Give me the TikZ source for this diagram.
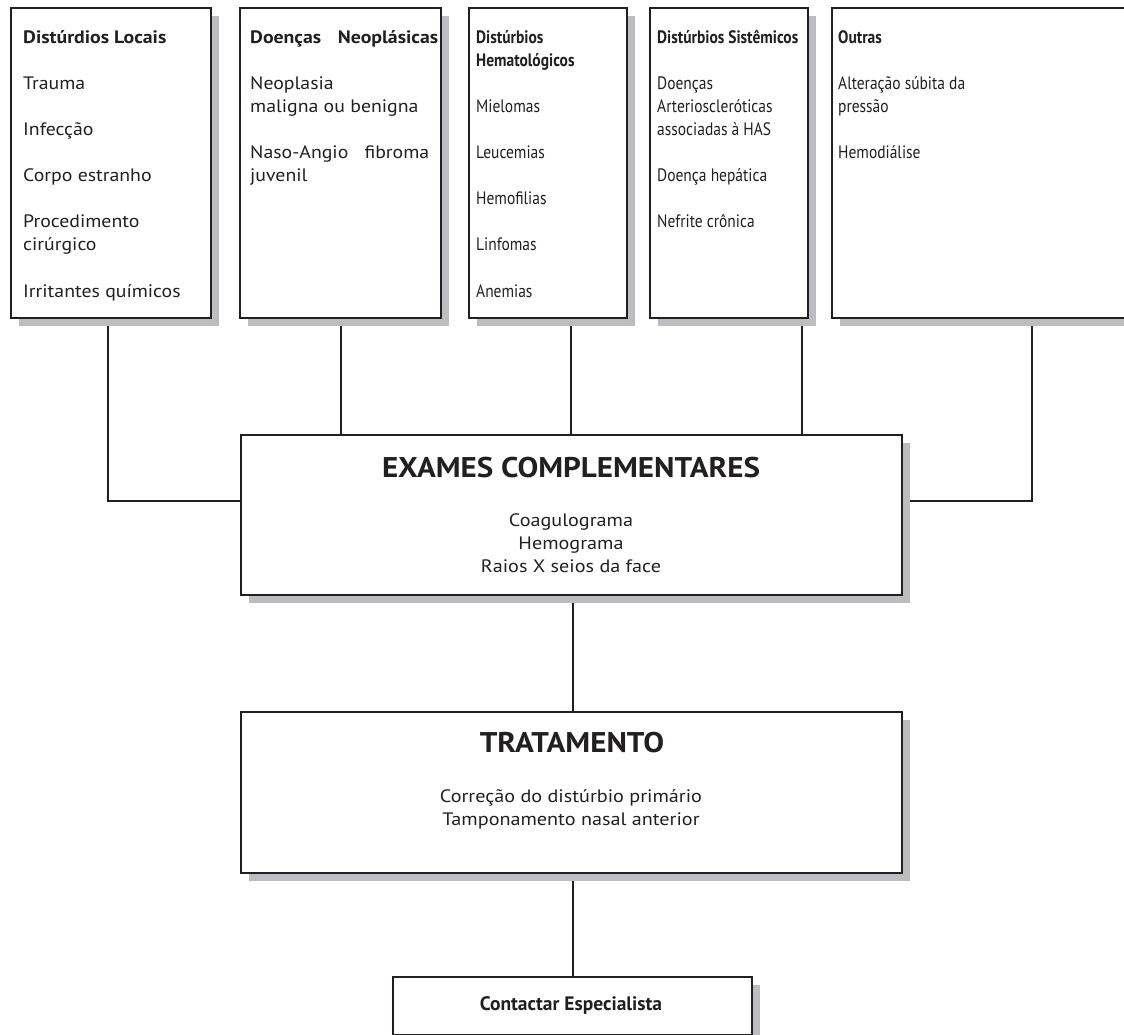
\documentclass[tikz,border=0pt]{standalone}
\usepackage{fontspec}
\setmainfont{PT Sans}
\newfontfamily\condfont[FakeStretch=0.86]{PT Sans}
\newfontfamily\widefont[FakeStretch=1.1]{PT Sans}
\newfontfamily\midfont[FakeStretch=1.12]{PT Sans}
\newfontfamily\headfont[FakeStretch=1.09]{PT Sans}
\usetikzlibrary{calc,shadows,backgrounds}
\definecolor{ink}{RGB}{35,31,32}
\definecolor{shade}{RGB}{188,189,192}
\newcommand\bodysize{\fontsize{18}{23.1}\selectfont}
\newcommand\gap{\\[23.1pt]}
\begin{document}
\begin{tikzpicture}[x=1pt,y=-1pt,
  box/.style={draw=ink, line width=2.4pt, fill=white, inner sep=0pt, rectangle, anchor=north west,
    drop shadow={shadow xshift=8pt, shadow yshift=-8pt, fill=shade, opacity=1}},
  link/.style={draw=ink, line width=2pt},
  coltext/.style={anchor=base west, inner sep=0pt, text=ink},
  midtext/.style={anchor=base, inner sep=0pt, text=ink}]
\useasboundingbox (0,0) rectangle (1124,1034);

% boxes
\node[box, minimum width=200pt, minimum height=310pt] (b1) at (10,7) {};
\node[box, minimum width=201pt, minimum height=310pt] (b2) at (239,7) {};
\node[box, minimum width=158pt, minimum height=310pt] (b3) at (468,7) {};
\node[box, minimum width=158pt, minimum height=310pt] (b4) at (649,7) {};
\node[box, minimum width=304pt, minimum height=310pt] (b5) at (831,7) {};
\node[box, minimum width=661pt, minimum height=160pt] (ex) at (240,434) {};
\node[box, minimum width=661pt, minimum height=161pt] (tr) at (240,711) {};
\node[box, minimum width=359pt, minimum height=58pt] (co) at (392,976) {};

% connectors (behind shadows)
\begin{pgfonlayer}{background}
\draw[link] ($(b1.south west)+(98,0)$) |- ([yshift=14pt]ex.west);
\draw[link] ($(b2.south west)+(102,0)$) -- ($(ex.north west)+(101,0)$);
\draw[link] ($(b3.south west)+(103,0)$) -- ($(ex.north west)+(331,0)$);
\draw[link] ($(b4.south west)+(153,0)$) -- ($(ex.north west)+(562,0)$);
\draw[link] ($(b5.south west)+(201,0)$) |- ([yshift=14pt]ex.east);
\draw[link] ([xshift=1.5pt]ex.south) -- ([xshift=1.5pt]tr.north);
\draw[link] ([xshift=1.5pt]tr.south) -- ([xshift=0.5pt]co.north);
\end{pgfonlayer}

% column texts
\node[coltext] (t1) at (23,43) {\parbox[t]{185pt}{\raggedright\widefont\bodysize
  \textbf{Distúrdios Locais}\gap Trauma\gap Infecção\gap Corpo estranho\gap
  Procedimento\\ cirúrgico\gap Irritantes químicos}};
\node[coltext] (t2) at (250,43) {\parbox[t]{190pt}{\raggedright\widefont\bodysize
  \makebox[188pt][s]{\textbf{Doenças Neoplásicas}}\gap Neoplasia\\ maligna ou benigna\gap
  \makebox[179pt][s]{Naso-Angio fibroma}\\ juvenil}};
\node[coltext] (t3) at (476,43) {\parbox[t]{145pt}{\raggedright\condfont\bodysize
  \textbf{Distúrbios}\\ \textbf{Hematológicos}\gap Mielomas\gap Leucemias\gap
  Hemofilias\gap Linfomas\gap Anemias}};
\node[coltext] (t4) at (657,43) {\parbox[t]{145pt}{\raggedright\condfont\bodysize
  \textbf{Distúrbios Sistêmicos}\gap Doenças\\ Arterioscleróticas\\ associadas à HAS\gap
  Doença hepática\gap Nefrite crônica}};
\node[coltext] (t5) at (838,43) {\parbox[t]{280pt}{\raggedright\condfont\bodysize
  \textbf{Outras}\gap Alteração súbita da\\ pressão\gap Hemodiálise}};

% center texts
\node[midtext] (exh) at (571,477) {\headfont\fontsize{28.5}{30}\selectfont\bfseries EXAMES COMPLEMENTARES};
\node[midtext] (exb) at (571,526) {\parbox[t]{400pt}{\centering\midfont\bodysize\baselineskip=23.3pt
  Coagulograma\\ Hemograma\\ Raios X seios da face}};
\node[midtext] (trh) at (572,752) {\headfont\fontsize{28.5}{30}\selectfont\bfseries TRATAMENTO};
\node[midtext] (trb) at (571,802) {\parbox[t]{400pt}{\centering\midfont\bodysize\baselineskip=23.3pt
  Correção do distúrbio primário\\ Tamponamento nasal anterior}};
\node[midtext] (cot) at (571,1010) {\fontsize{19.5}{22}\selectfont\bfseries Contactar Especialista};
\end{tikzpicture}
\end{document}
